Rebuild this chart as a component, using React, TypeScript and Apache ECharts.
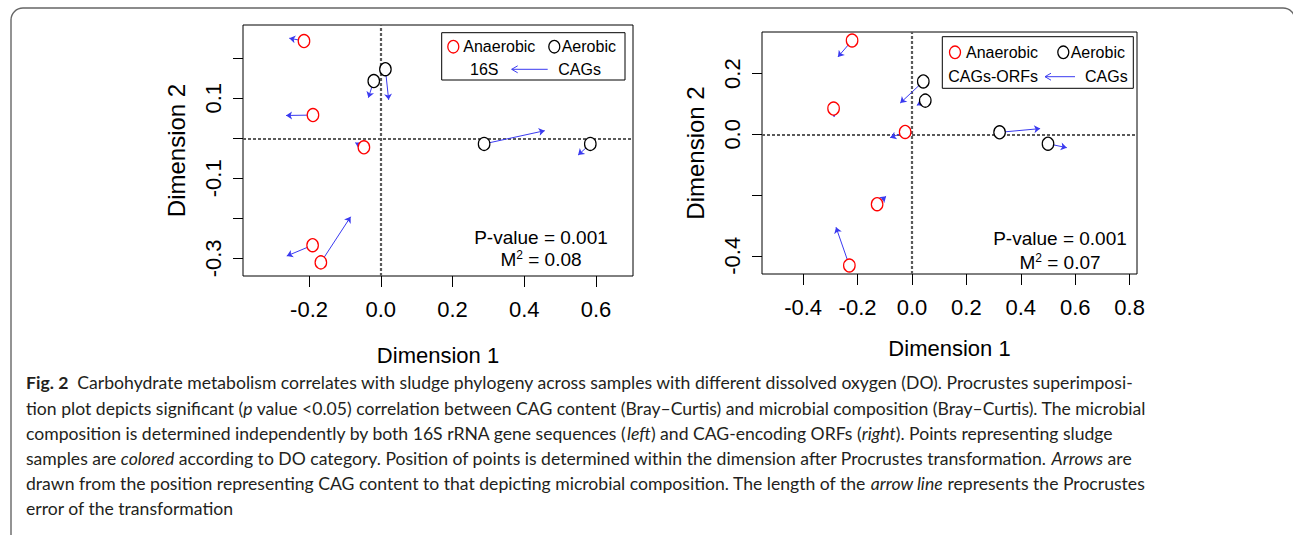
import React, { useEffect, useRef } from "react";
import * as echarts from "echarts";

// ---------- Left panel: 16S <- CAGs ----------
const leftAnaerobicCAGs = [[-0.214, 0.243], [-0.189, 0.058], [-0.047, -0.0225], [-0.19, -0.267], [-0.167, -0.31]];
const leftAnaerobic16S = [[-0.255, 0.25], [-0.264, 0.057], [-0.071, -0.011], [-0.262, -0.294], [-0.084, -0.196]];
const leftAerobicCAGs = [[-0.0195, 0.143], [0.0129, 0.1725], [0.288, -0.014], [0.584, -0.014]];
const leftAerobic16S = [[-0.0345, 0.1015], [0.022, 0.096], [0.457, 0.019], [0.55, -0.042]];

// ---------- Right panel: CAGs-ORFs <- CAGs ----------
const rightAnaerobicCAGs = [[-0.22, 0.309], [-0.288, 0.085], [-0.025, 0.0077], [-0.128, -0.23], [-0.23, -0.432]];
const rightAnaerobicORFs = [[-0.272, 0.255], [-0.286, 0.057], [-0.08, -0.011], [-0.095, -0.204], [-0.279, -0.306]];
const rightAerobicCAGs = [[0.0417, 0.174], [0.049, 0.111], [0.322, 0.0066], [0.5, -0.031]];
const rightAerobicORFs = [[-0.043, 0.103], [0.018, 0.0956], [0.471, 0.0188], [0.569, -0.044]];

// ---------- Ticks ----------
const leftXTicks = [-0.2, 0, 0.2, 0.4, 0.6];
const leftYTicks = [-0.3, -0.2, -0.1, 0, 0.1, 0.2];
const leftYLabels = [-0.3, -0.1, 0.1];
const rightXTicks = [-0.4, -0.2, 0, 0.2, 0.4, 0.6, 0.8];
const rightYTicks = [-0.4, -0.2, 0, 0.2];
const rightYLabels = [-0.4, 0, 0.2];

const leftStats = ["P-value = 0.001", "0.08"];
const rightStats = ["P-value = 0.001", "0.07"];

const captionLines = [
  "{b|Fig. 2}{n|  Carbohydrate metabolism correlates with sludge phylogeny across samples with different dissolved oxygen (DO). Procrustes superimposi-}",
  "{n|tion plot depicts significant (}{i|p}{n| value <0.05) correlation between CAG content (Bray–Curtis) and microbial composition (Bray–Curtis). The microbial}",
  "{n|composition is determined independently by both 16S rRNA gene sequences (}{i|left}{n|) and CAG-encoding ORFs (}{i|right}{n|). Points representing sludge}",
  "{n|samples are }{i|colored}{n| according to DO category. Position of points is determined within the dimension after Procrustes transformation. }{i|Arrows}{n| are}",
  "{n|drawn from the position representing CAG content to that depicting microbial composition. The length of the }{i|arrow line}{n| represents the Procrustes}",
  "{n|error of the transformation}",
];

const FONT = '"Liberation Sans", Arial, Helvetica, sans-serif';
const CAP_FONT = 'Lato, "Open Sans", sans-serif';
const CAP_SIZE = 17.6;
const ARROW = "#3a3af0";

const fmt = (v: number) => (Math.abs(v) < 1e-9 ? 0 : v).toFixed(1);

function pairs(from: number[][], to: number[][]) {
  return from.map((p, i) => ({ coords: [p, to[i]] }));
}

function xAxisCfg(grid: number, min: number, max: number, ticks: number[], gap: number) {
  return {
    gridIndex: grid,
    type: "value",
    min,
    max,
    axisLine: { show: false, onZero: false },
    splitLine: { show: false },
    axisTick: { show: true, inside: false, length: 11, lineStyle: { color: "#000", width: 1 }, customValues: ticks },
    axisLabel: { customValues: ticks, formatter: fmt, fontSize: 22, fontFamily: FONT, color: "#000", margin: 22 },
    name: "Dimension 1",
    nameLocation: "middle",
    nameGap: gap,
    nameTextStyle: { fontSize: 22, fontFamily: FONT, color: "#000" },
  };
}

function yAxisCfg(grid: number, min: number, max: number, ticks: number[], labels: number[]) {
  return {
    gridIndex: grid,
    type: "value",
    min,
    max,
    axisLine: { show: false, onZero: false },
    splitLine: { show: false },
    axisTick: { show: true, inside: false, length: 10, lineStyle: { color: "#000", width: 1 }, customValues: ticks },
    axisLabel: { customValues: labels, formatter: fmt, rotate: 90, fontSize: 22, fontFamily: FONT, color: "#000", margin: 19 },
    name: "Dimension 2",
    nameLocation: "middle",
    nameGap: 55,
    nameTextStyle: { fontSize: 24, fontFamily: FONT, color: "#000" },
  };
}

function scatter(grid: number, data: number[][], color: string, withRef: boolean) {
  const s: any = {
    type: "scatter",
    xAxisIndex: grid,
    yAxisIndex: grid,
    data,
    symbol: "circle",
    symbolSize: [11.5, 13],
    itemStyle: { color: "#fff", borderColor: color, borderWidth: 1.3, opacity: 1 },
    z: 5,
    silent: true,
  };
  if (withRef) {
    s.markLine = {
      silent: true,
      symbol: "none",
      label: { show: false },
      lineStyle: { type: [3, 2], color: "#5a5a5a", width: 2.2 },
      data: [{ xAxis: 0 }, { yAxis: 0 }],
      z: 1,
    };
  }
  return s;
}

function arrows(grid: number, data: any[]) {
  return {
    type: "lines",
    coordinateSystem: "cartesian2d",
    xAxisIndex: grid,
    yAxisIndex: grid,
    symbol: ["none", "arrow"],
    symbolSize: 6,
    lineStyle: { color: ARROW, width: 1, opacity: 1 },
    data,
    z: 3,
    silent: true,
  };
}

function legendGroup(box: number[], row1: number[], row2: any) {
  const [bx, by, bw, bh] = box;
  const els: any[] = [
    { type: "rect", shape: { x: bx, y: by, width: bw, height: bh }, style: { fill: "#fff", stroke: "#000", lineWidth: 1 } },
    { type: "ellipse", shape: { cx: row1[0], cy: row1[1], rx: 5.5, ry: 6.3 }, style: { fill: "none", stroke: "#ff0000", lineWidth: 1.3 } },
    { type: "text", style: { text: "Anaerobic", x: row1[2], y: row1[1], fontSize: 16, fontFamily: FONT, fill: "#000", align: "left", verticalAlign: "middle" } },
    { type: "ellipse", shape: { cx: row1[3], cy: row1[1], rx: 5.5, ry: 6.3 }, style: { fill: "none", stroke: "#000", lineWidth: 1.3 } },
    { type: "text", style: { text: "Aerobic", x: row1[4], y: row1[1], fontSize: 16, fontFamily: FONT, fill: "#000", align: "left", verticalAlign: "middle" } },
    { type: "text", style: { text: row2.left, x: row2.lx, y: row2.y, fontSize: 16, fontFamily: FONT, fill: "#000", align: "left", verticalAlign: "middle" } },
    { type: "line", shape: { x1: row2.a1, y1: row2.y, x2: row2.a0, y2: row2.y }, style: { stroke: ARROW, lineWidth: 1 } },
    { type: "polyline", shape: { points: [[row2.a0 + 6, row2.y - 3.5], [row2.a0, row2.y], [row2.a0 + 6, row2.y + 3.5]] }, style: { stroke: ARROW, lineWidth: 1, fill: "none" } },
    { type: "text", style: { text: "CAGs", x: row2.rx, y: row2.y, fontSize: 16, fontFamily: FONT, fill: "#000", align: "left", verticalAlign: "middle" } },
  ];
  return els;
}

function statsText(cx: number, cy1: number, cy2: number, stats: string[]) {
  return [
    { type: "text", style: { text: stats[0], x: cx, y: cy1, fontSize: 19, fontFamily: FONT, fill: "#000", align: "center", verticalAlign: "middle" } },
    {
      type: "text",
      style: {
        text: "{m|M}{s|2}{m| = " + stats[1] + "}",
        x: cx,
        y: cy2,
        align: "center",
        verticalAlign: "middle",
        fontSize: 19,
        fontFamily: FONT,
        fill: "#000",
        rich: {
          m: { fontSize: 19, fontFamily: FONT, fill: "#000", verticalAlign: "bottom" },
          s: { fontSize: 12, fontFamily: FONT, fill: "#000", verticalAlign: "top", padding: [0, 0, 8, 0] },
        },
      },
    },
  ];
}

export default function App() {
  const ref = useRef<HTMLDivElement>(null);
  useEffect(() => {
    document.body.style.margin = "0";
    if (!ref.current) return;
    const chart = echarts.init(ref.current, undefined, { renderer: "svg" });

    const capRich = {
      n: { fontSize: CAP_SIZE, fontFamily: CAP_FONT, fill: "#231f20" },
      b: { fontSize: CAP_SIZE, fontFamily: CAP_FONT, fontWeight: "bold", fill: "#231f20" },
      i: { fontSize: CAP_SIZE, fontFamily: CAP_FONT, fontStyle: "italic", fill: "#231f20" },
    };
    const capY = [382, 408, 433, 458, 483, 508];
    const caption = captionLines.map((t, k) => ({
      type: "text",
      style: { text: t, x: 26, y: capY[k], fontSize: CAP_SIZE, fontFamily: CAP_FONT, fill: "#231f20", align: "left", verticalAlign: "middle", rich: capRich },
    }));

    const graphic: any[] = [
      { type: "rect", shape: { x: 11, y: 8, width: 1284, height: 600, r: [12, 12, 0, 0] }, style: { fill: "none", stroke: "#666", lineWidth: 1.4 }, z: 0 },
      ...legendGroup([441.7, 32.7, 183.3, 47.3], [453.3, 46.7, 463.3, 554.3, 561.7], { left: "16S", lx: 470, y: 69.3, a0: 511.7, a1: 547.7, rx: 558.3 }),
      ...legendGroup([942.3, 36.7, 191, 51.6], [955, 52.3, 966, 1063.3, 1070.7], { left: "CAGs-ORFs", lx: 948.3, y: 76.7, a0: 1045, a1: 1075, rx: 1085 }),
      ...statsText(541, 237.3, 259.3, leftStats),
      ...statsText(1060, 238.3, 261.7, rightStats),
      ...caption,
    ];

    chart.setOption({
      animation: false,
      backgroundColor: "#fff",
      grid: [
        { left: 243, top: 25, width: 390, height: 251, show: true, borderColor: "#000", borderWidth: 1, backgroundColor: "transparent" },
        { left: 762, top: 32, width: 375, height: 242, show: true, borderColor: "#000", borderWidth: 1, backgroundColor: "transparent" },
      ],
      xAxis: [xAxisCfg(0, -0.384, 0.703, leftXTicks, 68), xAxisCfg(1, -0.551, 0.827, rightXTicks, 63)],
      yAxis: [yAxisCfg(0, -0.344, 0.283, leftYTicks, leftYLabels), yAxisCfg(1, -0.46, 0.337, rightYTicks, rightYLabels)],
      series: [
        arrows(0, pairs(leftAnaerobicCAGs, leftAnaerobic16S).concat(pairs(leftAerobicCAGs, leftAerobic16S))),
        scatter(0, leftAnaerobicCAGs, "#ff0000", true),
        scatter(0, leftAerobicCAGs, "#000000", false),
        arrows(1, pairs(rightAnaerobicCAGs, rightAnaerobicORFs).concat(pairs(rightAerobicCAGs, rightAerobicORFs))),
        scatter(1, rightAnaerobicCAGs, "#ff0000", true),
        scatter(1, rightAerobicCAGs, "#000000", false),
      ],
      graphic,
    });
    return () => chart.dispose();
  }, []);
  return <div ref={ref} style={{ width: 1293, height: 535 }} />;
}
